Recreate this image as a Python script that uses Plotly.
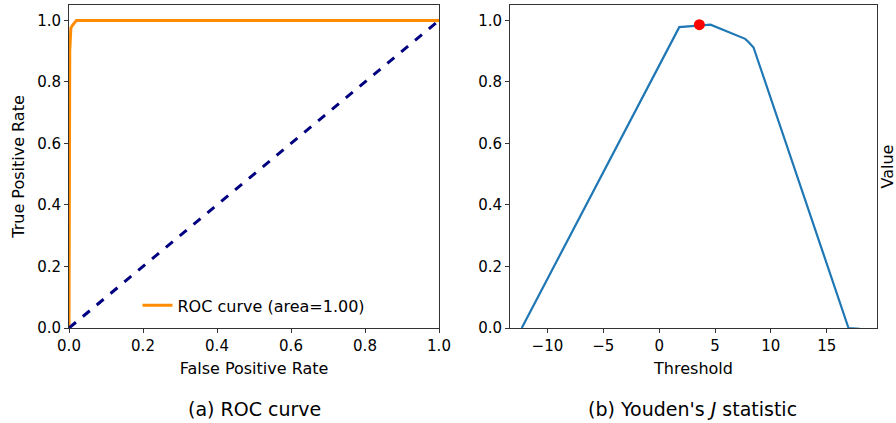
import plotly.graph_objects as go

# ROC data
fpr = [0.0, 0.0, 0.002, 0.005, 0.01, 0.02, 1.0]
tpr = [0.0, 0.3, 0.90, 0.975, 0.985, 1.0, 1.0]
diag_x = [0.0, 1.0]
diag_y = [0.0, 1.0]

# Youden's J data
thresholds = [-12.3, 1.8, 4.6, 7.7, 8.0, 8.45, 16.95, 17.95]
youden_j = [0.0, 0.978, 0.986, 0.94, 0.93, 0.912, 0.0, -0.003]
best_thr = [3.6]
best_j = [0.986]

W, H = 896, 423
font = "DejaVu Sans"

fig = go.Figure()
fig.add_trace(go.Scatter(x=fpr, y=tpr, mode="lines", line=dict(color="#ff8c00", width=3),
                         name="ROC curve (area=1.00)", xaxis="x", yaxis="y"))
fig.add_trace(go.Scatter(x=diag_x, y=diag_y, mode="lines", line=dict(color="navy", width=3, dash="dash"),
                         showlegend=False, xaxis="x", yaxis="y"))
fig.add_trace(go.Scatter(x=thresholds, y=youden_j, mode="lines", line=dict(color="#1f77b4", width=2.2),
                         showlegend=False, xaxis="x2", yaxis="y2"))
fig.add_trace(go.Scatter(x=best_thr, y=best_j, mode="markers", marker=dict(color="red", size=11),
                         showlegend=False, xaxis="x2", yaxis="y2"))

axcommon = dict(showline=True, linecolor="#333", linewidth=1, mirror=True, ticks="outside",
                ticklen=4, tickcolor="#333", showgrid=False, zeroline=False, automargin=False,
                tickfont=dict(family=font, size=15, color="black"))

fig.update_layout(
    width=W, height=H, margin=dict(l=0, r=0, t=5, b=95),
    paper_bgcolor="white", plot_bgcolor="white",
    font=dict(family=font, color="black"),
    xaxis=dict(domain=[69 / W, 439 / W], range=[0, 1], tickvals=[0, 0.2, 0.4, 0.6, 0.8, 1.0],
               tickformat=".1f", anchor="y",
               title=dict(text="False Positive Rate", font=dict(size=16), standoff=8), **axcommon),
    yaxis=dict(domain=[0, 1], range=[0, 1.05], tickvals=[0, 0.2, 0.4, 0.6, 0.8, 1.0],
               tickformat=".1f", anchor="x",
               title=dict(text="True Positive Rate", font=dict(size=16), standoff=8), **axcommon),
    xaxis2=dict(domain=[510 / W, 877 / W], range=[-13.35, 19.5], tickvals=[-10, -5, 0, 5, 10, 15],
                ticktext=["\u221210", "\u22125", "0", "5", "10", "15"], anchor="y2",
                title=dict(text="Threshold", font=dict(size=16), standoff=8), **axcommon),
    yaxis2=dict(domain=[0, 1], range=[0, 1.05], tickvals=[0, 0.2, 0.4, 0.6, 0.8, 1.0],
                tickformat=".1f", anchor="x2", **axcommon),
    legend=dict(x=254 / W, y=0.07, xanchor="center", yanchor="middle", bgcolor="rgba(0,0,0,0)",
                font=dict(family=font, size=16)),
    annotations=[
        dict(text="(a) ROC curve", x=254 / W, y=-81 / 323, xref="paper", yref="paper",
             showarrow=False, font=dict(family=font, size=19), xanchor="center", yanchor="middle"),
        dict(text="(b) Youden's <i>J</i> statistic", x=692 / W, y=-81 / 323, xref="paper", yref="paper",
             showarrow=False, font=dict(family=font, size=19), xanchor="center", yanchor="middle"),
        dict(text="Value", x=887 / W, y=0.5, xref="paper", yref="paper", textangle=-90,
             showarrow=False, font=dict(family=font, size=16), xanchor="center", yanchor="middle"),
    ],
)

fig.write_html("out.html", config={"displayModeBar": False},
               post_script="document.body.style.margin='0';document.body.style.overflow='hidden';")
